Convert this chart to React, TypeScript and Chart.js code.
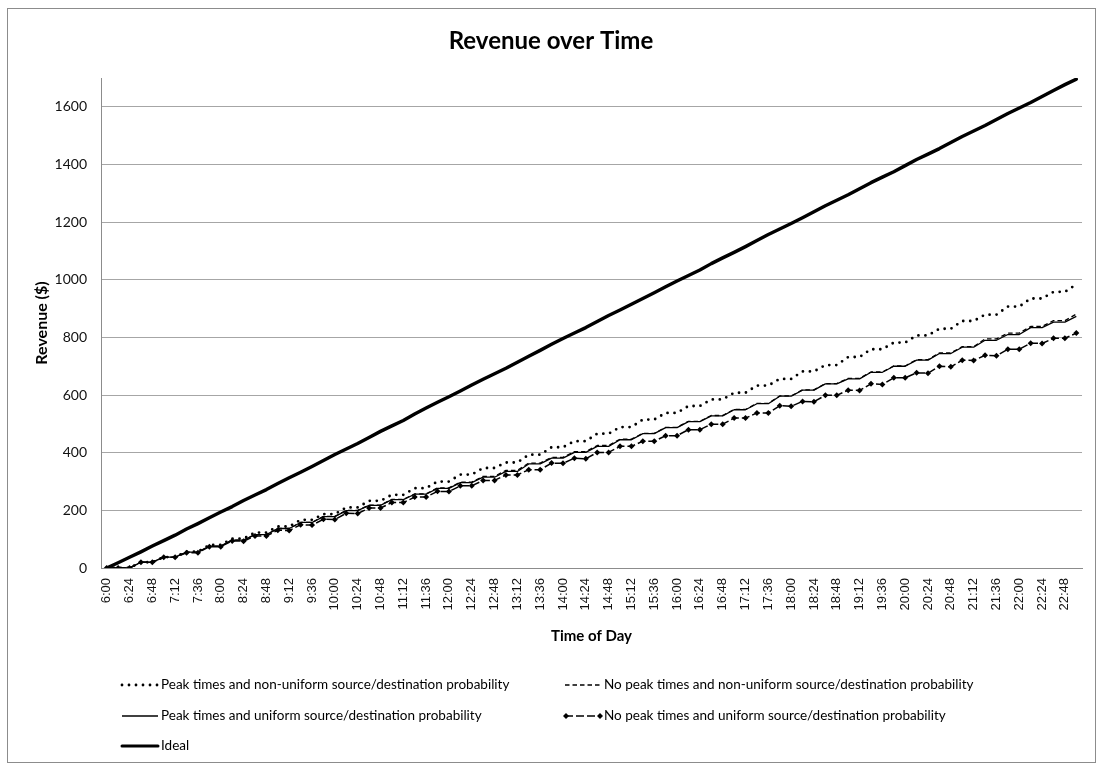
import React, { useEffect, useRef } from 'react';
import { Chart, registerables } from 'chart.js';

Chart.register(...registerables);

// Time of day, one category every 12 minutes from 6:00 to 23:00
const timeLabels = [
  '6:00', '6:12', '6:24', '6:36', '6:48', '7:00', '7:12', '7:24', '7:36', '7:48',
  '8:00', '8:12', '8:24', '8:36', '8:48', '9:00', '9:12', '9:24', '9:36', '9:48',
  '10:00', '10:12', '10:24', '10:36', '10:48', '11:00', '11:12', '11:24', '11:36', '11:48',
  '12:00', '12:12', '12:24', '12:36', '12:48', '13:00', '13:12', '13:24', '13:36', '13:48',
  '14:00', '14:12', '14:24', '14:36', '14:48', '15:00', '15:12', '15:24', '15:36', '15:48',
  '16:00', '16:12', '16:24', '16:36', '16:48', '17:00', '17:12', '17:24', '17:36', '17:48',
  '18:00', '18:12', '18:24', '18:36', '18:48', '19:00', '19:12', '19:24', '19:36', '19:48',
  '20:00', '20:12', '20:24', '20:36', '20:48', '21:00', '21:12', '21:24', '21:36', '21:48',
  '22:00', '22:12', '22:24', '22:36', '22:48', '23:00',
];

// Cumulative revenue ($) per scenario
const peakNonUniform = [
  0, 0, 0, 20, 20, 38, 38, 57, 57, 80, 80, 102, 102, 123, 123, 144, 144, 167, 167, 187,
  187, 210, 210, 233, 233, 254, 254, 277, 277, 300, 300, 324, 324, 347, 347, 366, 366, 393, 393, 419,
  419, 440, 440, 466, 466, 489, 489, 515, 515, 538, 538, 562, 562, 585, 585, 608, 608, 633, 633, 656,
  656, 682, 682, 704, 704, 732, 732, 759, 759, 782, 782, 807, 807, 830, 830, 857, 857, 879, 879, 907,
  907, 935, 935, 958, 958, 984,
];

const noPeakNonUniform = [
  0, 0, 0, 20, 20, 38, 38, 55, 55, 76, 76, 97, 97, 116, 116, 137, 137, 158, 158, 179,
  179, 200, 200, 218, 218, 238, 238, 257, 257, 278, 278, 298, 298, 318, 318, 339, 339, 364, 364, 384,
  384, 404, 404, 425, 425, 447, 447, 467, 467, 488, 488, 509, 509, 529, 529, 550, 550, 571, 571, 597,
  597, 618, 618, 640, 640, 658, 658, 680, 680, 701, 701, 723, 723, 746, 746, 768, 768, 795, 795, 815,
  815, 838, 838, 858, 858, 881,
];

const peakUniform = [
  0, 0, 0, 20, 20, 38, 38, 55, 55, 76, 76, 97, 97, 116, 116, 137, 137, 158, 158, 178,
  178, 199, 199, 217, 217, 237, 237, 256, 256, 276, 276, 296, 296, 315, 315, 335, 335, 361, 361, 381,
  381, 401, 401, 422, 422, 445, 445, 466, 466, 487, 487, 508, 508, 528, 528, 549, 549, 570, 570, 596,
  596, 617, 617, 639, 639, 656, 656, 679, 679, 700, 700, 721, 721, 744, 744, 766, 766, 790, 790, 810,
  810, 834, 834, 853, 853, 873,
];

const noPeakUniform = [
  0, 0, 0, 20, 20, 37, 37, 53, 53, 74, 74, 94, 93, 111, 111, 131, 130, 150, 149, 169,
  168, 190, 189, 208, 208, 227, 227, 246, 246, 266, 265, 285, 285, 304, 304, 323, 323, 341, 341, 364,
  363, 381, 379, 401, 401, 422, 422, 440, 440, 459, 459, 480, 480, 499, 499, 520, 520, 538, 538, 563,
  561, 578, 577, 599, 599, 617, 616, 639, 637, 660, 660, 677, 676, 700, 698, 721, 720, 738, 736, 759,
  759, 780, 779, 797, 797, 815,
];

const ideal = [
  0, 18, 37, 56, 76, 95, 114, 135, 154, 174, 194, 213, 234, 253, 272, 293, 313, 332, 352, 373,
  394, 413, 432, 453, 474, 493, 512, 534, 555, 575, 594, 614, 635, 655, 674, 693, 714, 735, 755, 776,
  796, 815, 834, 855, 876, 895, 915, 935, 955, 976, 996, 1015, 1034, 1056, 1076, 1095, 1115, 1136, 1157, 1176,
  1195, 1215, 1236, 1257, 1276, 1295, 1316, 1337, 1356, 1375, 1396, 1417, 1436, 1455, 1476, 1497, 1516, 1535, 1556, 1577,
  1596, 1615, 1636, 1657, 1677, 1696,
];

const seriesNames = [
  'Peak times and non-uniform source/destination probability',
  'No peak times and non-uniform source/destination probability',
  'Peak times and uniform source/destination probability',
  'No peak times and uniform source/destination probability',
  'Ideal',
];

const yMin = 0;
const yMax = 1700;
const yStep = 200;

const chartTitle = 'Revenue over Time';
const xTitle = 'Time of Day';
const yTitle = 'Revenue ($)';

const W = 1102;
const H = 769;
const PLOT_LEFT = 101;
const PLOT_RIGHT = 1087;
const PLOT_TOP = 78;
const PLOT_BOTTOM = 568;

const UI_FONT = 'Lato, "Open Sans", sans-serif';

type Style = {
  width: number;
  dash: number[];
  cap: CanvasLineCap;
  marker?: boolean;
};

const styles: Style[] = [
  { width: 2.8, dash: [0, 7], cap: 'round' },
  { width: 1.3, dash: [4.5, 3], cap: 'butt' },
  { width: 1.3, dash: [], cap: 'butt' },
  { width: 1.5, dash: [8, 3], cap: 'butt', marker: true },
  { width: 3.4, dash: [], cap: 'round' },
];

// Legend layout: [x of sample start, centre y of row]
const legendSlots: [number, number][] = [
  [122, 685],
  [565, 685],
  [122, 716],
  [565, 716],
  [122, 746],
];

function drawDiamond(ctx: CanvasRenderingContext2D, x: number, y: number, r: number) {
  ctx.beginPath();
  ctx.moveTo(x, y - r);
  ctx.lineTo(x + r, y);
  ctx.lineTo(x, y + r);
  ctx.lineTo(x - r, y);
  ctx.closePath();
  ctx.fill();
}

const decorations = {
  id: 'decorations',
  beforeDraw(chart: Chart) {
    const ctx = chart.ctx;
    ctx.save();
    ctx.fillStyle = '#ffffff';
    ctx.fillRect(0, 0, W, H);
    ctx.strokeStyle = '#8c8c8c';
    ctx.lineWidth = 1;
    ctx.strokeRect(7.5, 8.5, 1088, 754);
    ctx.restore();
  },
  afterDraw(chart: Chart) {
    const ctx = chart.ctx;
    const area = chart.chartArea;
    ctx.save();
    ctx.fillStyle = '#000000';
    ctx.textBaseline = 'middle';
    ctx.textAlign = 'center';

    ctx.font = `bold 24px ${UI_FONT}`;
    ctx.fillText(chartTitle, W / 2, 41);

    ctx.font = `bold 15px ${UI_FONT}`;
    ctx.fillText(xTitle, (area.left + area.right) / 2, 636);

    ctx.save();
    ctx.font = `bold 16px ${UI_FONT}`;
    ctx.translate(42, (area.top + area.bottom) / 2);
    ctx.rotate(-Math.PI / 2);
    ctx.fillText(yTitle, 0, 0);
    ctx.restore();

    // legend
    ctx.textAlign = 'left';
    ctx.font = `13.5px ${UI_FONT}`;
    seriesNames.forEach((name, i) => {
      const [x0, y] = legendSlots[i];
      const st = styles[i];
      const len = 36;
      ctx.save();
      ctx.strokeStyle = '#000';
      ctx.lineWidth = Math.min(st.width, 3);
      ctx.lineCap = st.cap;
      ctx.setLineDash(st.dash);
      ctx.beginPath();
      ctx.moveTo(x0, y);
      ctx.lineTo(x0 + len, y);
      ctx.stroke();
      if (st.marker) {
        ctx.fillStyle = '#000';
        drawDiamond(ctx, x0 + 1, y, 3);
        drawDiamond(ctx, x0 + len - 1, y, 3);
      }
      ctx.restore();
      ctx.fillText(name, x0 + len + 3, y);
    });
    ctx.restore();
  },
};

export default function App() {
  const canvasRef = useRef<HTMLCanvasElement | null>(null);

  useEffect(() => {
    document.body.style.margin = '0';
    const canvas = canvasRef.current;
    if (!canvas) return;

    const seriesData = [peakNonUniform, noPeakNonUniform, peakUniform, noPeakUniform, ideal];

    const datasets = seriesData.map((data, i) => {
      const st = styles[i];
      return {
        label: seriesNames[i],
        data,
        borderColor: '#000000',
        backgroundColor: '#000000',
        borderWidth: st.width,
        borderDash: st.dash,
        borderCapStyle: st.cap,
        borderJoinStyle: 'round' as const,
        pointRadius: st.marker ? 3 : 0,
        pointHoverRadius: st.marker ? 3 : 0,
        pointStyle: 'rectRot' as const,
        pointBorderWidth: 0,
        pointBackgroundColor: '#000000',
        tension: 0,
        fill: false,
        order: 4 - i,
      };
    });

    const chart = new Chart(canvas, {
      type: 'line',
      data: { labels: timeLabels, datasets },
      options: {
        responsive: false,
        maintainAspectRatio: false,
        animation: false,
        devicePixelRatio: 1,
        layout: {
          padding: { left: 0, top: PLOT_TOP, right: W - PLOT_RIGHT, bottom: 0 },
        },
        plugins: {
          legend: { display: false },
          title: { display: false },
          tooltip: { enabled: false },
        },
        scales: {
          x: {
            type: 'category',
            offset: true,
            grid: { display: false, drawTicks: false },
            border: { display: true, color: '#8c8c8c', width: 1 },
            ticks: {
              autoSkip: false,
              maxRotation: 90,
              minRotation: 90,
              padding: 10,
              color: '#111111',
              font: { family: '"Liberation Sans", Arial, sans-serif', size: 13 },
              callback: (_v: any, idx: number) => (idx % 2 === 0 ? timeLabels[idx] : ''),
            },
            afterFit: (scale: any) => {
              scale.height = H - PLOT_BOTTOM;
            },
          },
          y: {
            type: 'linear',
            min: yMin,
            max: yMax,
            grid: { color: '#a6a6a6', lineWidth: 1, drawTicks: false },
            border: { display: true, color: '#8c8c8c', width: 1 },
            ticks: {
              stepSize: yStep,
              includeBounds: false,
              padding: 14,
              color: '#111111',
              font: { family: UI_FONT, size: 14 },
              callback: (v: any) => String(v),
            },
            afterFit: (scale: any) => {
              scale.width = PLOT_LEFT;
            },
          },
        },
      },
      plugins: [decorations],
    });

    return () => {
      chart.destroy();
    };
  }, []);

  return (
    <div style={{ position: 'relative', width: W, height: H }}>
      <canvas ref={canvasRef} width={W} height={H} style={{ display: 'block', width: W, height: H }} />
    </div>
  );
}
